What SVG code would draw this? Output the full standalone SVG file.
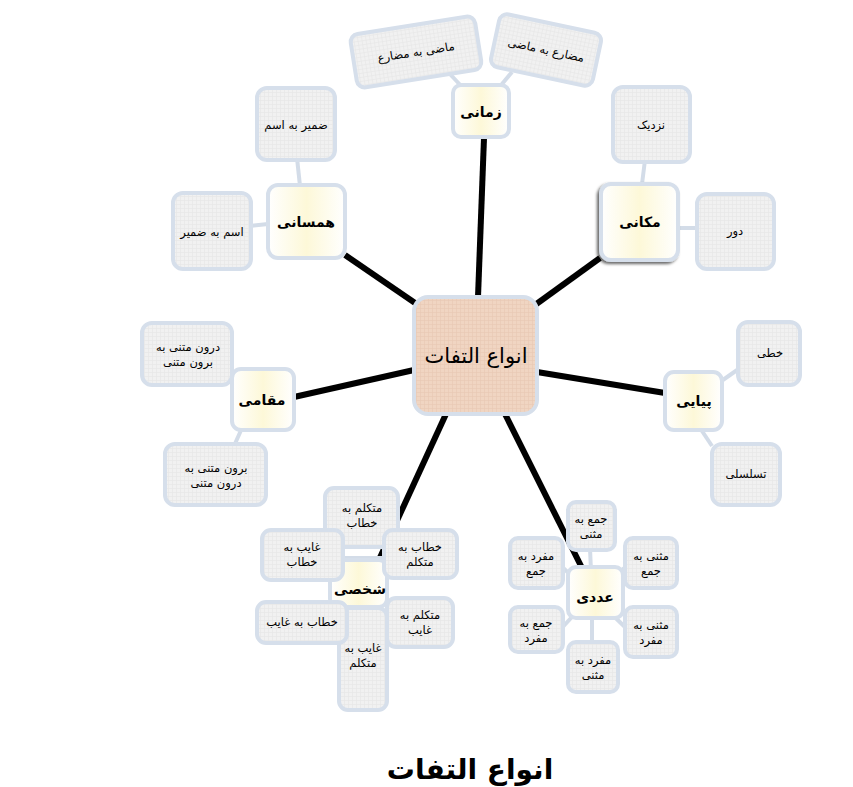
<svg xmlns="http://www.w3.org/2000/svg" width="853" height="787" viewBox="0 0 853 787">
<defs>
<pattern id="grid" width="4" height="4" patternUnits="userSpaceOnUse">
<rect width="4" height="4" fill="#f1f1f1"/>
<path d="M0 0.5H4M0.5 0V4" stroke="#e6e6e6" stroke-width="0.6"/>
</pattern>
<linearGradient id="yel" x1="0" y1="0" x2="1" y2="0">
<stop offset="0" stop-color="#ffffff"/>
<stop offset="0.5" stop-color="#fdf8d8"/>
<stop offset="1" stop-color="#ffffff"/>
</linearGradient>
<pattern id="peach" width="4" height="4" patternUnits="userSpaceOnUse">
<rect width="4" height="4" fill="#f0d5c2"/>
<path d="M0 0.5H4M0.5 0V4" stroke="#e8c8b3" stroke-width="0.6"/>
</pattern>
<filter id="sh" x="-20%" y="-20%" width="140%" height="140%">
<feDropShadow dx="-2" dy="2" stdDeviation="1.5" flood-color="#000" flood-opacity="0.6"/>
</filter>
</defs>
<style>
.leaf{fill:url(#grid);stroke:#d6dfeb;stroke-width:4}
.mid{fill:url(#yel);stroke:#d6dfeb;stroke-width:4}
.sub{stroke:#d3dce8;stroke-width:4;fill:none}
.main{stroke:#000;stroke-width:6;fill:none}
text{font-family:"DejaVu Sans",sans-serif;text-anchor:middle;fill:#000}
.t{font-size:11.5px}
.m{font-size:14px;font-weight:bold}
</style>
<rect width="853" height="787" fill="#fff"/>
<g id="connectors">
<line class="main" x1="478" y1="297" x2="484" y2="138"/>
<line class="main" x1="418" y1="305" x2="345" y2="255"/>
<line class="main" x1="535" y1="305" x2="600" y2="258"/>
<line class="main" x1="414" y1="370" x2="294" y2="397"/>
<line class="main" x1="537" y1="372" x2="665" y2="393"/>
<line class="main" x1="446" y1="414" x2="372" y2="575"/>
<line class="main" x1="505" y1="414" x2="583" y2="570"/>
<line class="sub" x1="465" y1="90" x2="448" y2="72"/>
<line class="sub" x1="497" y1="90" x2="512" y2="72"/>
<line class="sub" x1="300" y1="186" x2="297" y2="158"/>
<line class="sub" x1="268" y1="224" x2="250" y2="226"/>
<line class="sub" x1="642" y1="184" x2="645" y2="160"/>
<line class="sub" x1="678" y1="228" x2="698" y2="228"/>
<line class="sub" x1="234" y1="376" x2="224" y2="382"/>
<line class="sub" x1="242" y1="428" x2="234" y2="446"/>
<line class="sub" x1="720" y1="382" x2="740" y2="368"/>
<line class="sub" x1="700" y1="428" x2="712" y2="446"/>
<line class="sub" x1="592" y1="595" x2="590" y2="548"/>
<line class="sub" x1="592" y1="595" x2="628" y2="565"/>
<line class="sub" x1="592" y1="595" x2="560" y2="565"/>
<line class="sub" x1="592" y1="595" x2="560" y2="630"/>
<line class="sub" x1="592" y1="595" x2="628" y2="630"/>
<line class="sub" x1="592" y1="595" x2="592" y2="645"/>
<line class="sub" x1="340" y1="558" x2="395" y2="558"/>
</g>
<g id="n-center">
<rect x="414" y="297" width="123" height="117" rx="14" fill="url(#peach)" stroke="#d6dfeb" stroke-width="4"/>
<text x="476" y="363" font-size="21">انواع التفات</text>
</g>
<g id="n-zamani">
<rect class="mid" x="453" y="85" width="56" height="52" rx="8"/>
<text class="m" x="481" y="117">زمانی</text>
</g>
<g id="n-mazi-mozare">
<g transform="translate(416 52) rotate(-9)">
<rect class="leaf" x="-63" y="-27" width="126" height="54" rx="8"/>
<text class="t" x="0" y="4">ماضی به مضارع</text>
</g>
</g>
<g id="n-mozare-mazi">
<g transform="translate(546 50) rotate(12)">
<rect class="leaf" x="-52" y="-27" width="104" height="54" rx="8"/>
<text class="t" x="0" y="4">مضارع به ماضی</text>
</g>
</g>
<g id="n-hamsani">
<rect class="mid" x="268" y="185" width="77" height="73" rx="10"/>
<text class="m" x="306" y="227">همسانی</text>
</g>
<g id="n-zamir-esm">
<rect class="leaf" x="257" y="88" width="78" height="72" rx="10"/>
<text class="t" x="296" y="129">ضمیر به اسم</text>
</g>
<g id="n-esm-zamir">
<rect class="leaf" x="173" y="193" width="78" height="76" rx="10"/>
<text class="t" x="212" y="236">اسم به ضمیر</text>
</g>
<g id="n-makani">
<rect class="mid" x="601" y="184" width="77" height="76" rx="10" filter="url(#sh)"/>
<text class="m" x="640" y="227">مکانی</text>
</g>
<g id="n-nazdik">
<rect class="leaf" x="613" y="87" width="77" height="75" rx="10"/>
<text class="t" x="651" y="129">نزدیک</text>
</g>
<g id="n-dur">
<rect class="leaf" x="697" y="194" width="77" height="75" rx="10"/>
<text class="t" x="735" y="235">دور</text>
</g>
<g id="n-maqami">
<rect class="mid" x="232" y="369" width="62" height="61" rx="9"/>
<text class="m" x="262" y="405">مقامی</text>
</g>
<g id="n-darun-birun">
<rect class="leaf" x="142" y="323" width="90" height="62" rx="10"/>
<text class="t" x="188" y="351">درون متنی به</text>
<text class="t" x="188" y="366">برون متنی</text>
</g>
<g id="n-birun-darun">
<rect class="leaf" x="165" y="444" width="101" height="61" rx="10"/>
<text class="t" x="216" y="472">برون متنی به</text>
<text class="t" x="216" y="487">درون متنی</text>
</g>
<g id="n-payapi">
<rect class="mid" x="665" y="372" width="57" height="58" rx="9"/>
<text class="m" x="694" y="406">پیایی</text>
</g>
<g id="n-khatti">
<rect class="leaf" x="738" y="322" width="62" height="63" rx="10"/>
<text class="t" x="770" y="357">خطی</text>
</g>
<g id="n-tasalsoli">
<rect class="leaf" x="712" y="444" width="68" height="61" rx="10"/>
<text class="t" x="746" y="478">تسلسلی</text>
</g>
<g id="n-shakhsi">
<rect class="mid" x="330" y="560" width="57" height="47" rx="8"/>
<text class="m" x="360" y="594">شخصی</text>
</g>
<g id="n-motakalem-khetab">
<rect class="leaf" x="325" y="488" width="73" height="59" rx="9"/>
<text class="t" x="362" y="512">متکلم به</text>
<text class="t" x="362" y="527">خطاب</text>
</g>
<g id="n-ghayeb-khetab">
<rect class="leaf" x="262" y="530" width="81" height="50" rx="9"/>
<text class="t" x="302" y="551">غایب به</text>
<text class="t" x="302" y="566">خطاب</text>
</g>
<g id="n-khetab-motakalem">
<rect class="leaf" x="384" y="530" width="73" height="48" rx="9"/>
<text class="t" x="420" y="551">خطاب به</text>
<text class="t" x="420" y="566">متکلم</text>
</g>
<g id="n-ghayeb-motakalem">
<rect class="leaf" x="339" y="608" width="48" height="102" rx="9"/>
<text class="t" x="363" y="652">غایب به</text>
<text class="t" x="363" y="667">متکلم</text>
</g>
<g id="n-khetab-ghayeb">
<rect class="leaf" x="257" y="602" width="90" height="41" rx="9"/>
<text class="t" x="302" y="626">خطاب به غایب</text>
</g>
<g id="n-motakalem-ghayeb">
<rect class="leaf" x="387" y="598" width="66" height="49" rx="9"/>
<text class="t" x="420" y="619">متکلم به</text>
<text class="t" x="420" y="634">غایب</text>
</g>
<g id="n-adadi">
<rect class="mid" x="568" y="567" width="55" height="51" rx="8"/>
<text class="m" x="595" y="602">عددی</text>
</g>
<g id="n-jam-mosanna">
<rect class="leaf" x="568" y="502" width="47" height="48" rx="8"/>
<text class="t" x="591" y="523">جمع به</text>
<text class="t" x="591" y="538">مثنی</text>
</g>
<g id="n-mosanna-jam">
<rect class="leaf" x="625" y="538" width="52" height="50" rx="8"/>
<text class="t" x="651" y="560">مثنی به</text>
<text class="t" x="651" y="575">جمع</text>
</g>
<g id="n-mofrad-jam">
<rect class="leaf" x="510" y="538" width="53" height="50" rx="8"/>
<text class="t" x="536" y="560">مفرد به</text>
<text class="t" x="536" y="575">جمع</text>
</g>
<g id="n-jam-mofrad">
<rect class="leaf" x="510" y="607" width="53" height="45" rx="8"/>
<text class="t" x="536" y="627">جمع به</text>
<text class="t" x="536" y="642">مفرد</text>
</g>
<g id="n-mosanna-mofrad">
<rect class="leaf" x="625" y="607" width="52" height="50" rx="8"/>
<text class="t" x="651" y="629">مثنی به</text>
<text class="t" x="651" y="644">مفرد</text>
</g>
<g id="n-mofrad-mosanna">
<rect class="leaf" x="568" y="642" width="50" height="50" rx="8"/>
<text class="t" x="593" y="664">مفرد به</text>
<text class="t" x="593" y="679">مثنی</text>
</g>
<text x="470" y="779" font-size="28" font-weight="bold">انواع التفات</text>
</svg>
